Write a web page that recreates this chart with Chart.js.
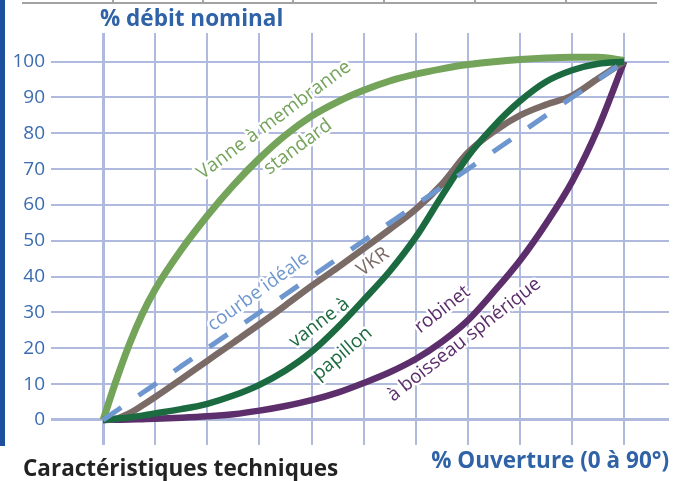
<!DOCTYPE html>
<html>
<head>
<meta charset="utf-8">
<script src="https://cdn.jsdelivr.net/npm/chart.js"></script>
<style>
  html, body { margin: 0; padding: 0; background: #fff; }
  #wrap { position: relative; width: 677px; height: 481px; }
</style>
</head>
<body>
<div id="wrap"><canvas id="chart" width="677" height="481"></canvas></div>
<script>
// % ouverture (axe x)
var ouverture = [0, 2.5, 5, 7.5, 10, 15, 20, 25, 30, 35, 40, 45, 50, 55, 60, 65, 70, 75, 80, 85, 90, 95, 100];

// % débit nominal pour chaque type de vanne
var membrane = [0, 11, 21, 29.5, 36.5, 47.5, 57, 65.5, 73, 79.5, 84.8, 88.8, 92, 94.6, 96.5, 98, 99.2, 100, 100.6, 101, 101.2, 101.2, 100.3];
var ideale   = [0, 2.5, 5, 7.5, 10, 15, 20, 25, 30, 35, 40, 45, 50, 55, 60, 65, 70, 75, 80, 85, 90, 95, 100];
var vkr      = [0, 0.3, 1.8, 4, 6.4, 11.4, 16.5, 21.6, 26.7, 32, 37.4, 42.5, 47.8, 53.2, 58.8, 65.8, 74.6, 80.5, 85, 88, 90.5, 95.3, 100];
var papillon = [0, 0.35, 0.7, 1.2, 1.8, 3, 4.5, 6.8, 9.8, 13.8, 19, 25.8, 33.5, 41.5, 51, 62.5, 73.5, 82, 89, 94.4, 97.6, 99.4, 100];
var robinet  = [0, 0.05, 0.1, 0.2, 0.3, 0.6, 1, 1.6, 2.6, 3.9, 5.5, 7.6, 10.3, 13.3, 17, 21.8, 27.8, 35.8, 44.5, 54.8, 66.5, 81.5, 100];

// graduations
var yTicks = [0, 10, 20, 30, 40, 50, 60, 70, 80, 90, 100];
var xTicks = [0, 10, 20, 30, 40, 50, 60, 70, 80, 90, 100];

// étiquettes des courbes (position en coordonnées du graphique)
var etiquettes = [
  { text: 'Vanne à membranne', x: 32.8, y: 83.7, angle: -36.5, color: '#74a35a' },
  { text: 'standard',          x: 37.4, y: 76.2, angle: -36.5, color: '#74a35a' },
  { text: 'courbe idéale',     x: 29.8, y: 35.8, angle: -36,   color: '#6f97cf' },
  { text: 'VKR',               x: 51.8, y: 44.1, angle: -36,   color: '#7b6b67' },
  { text: 'vanne à',           x: 41.5, y: 27.1, angle: -37,   color: '#1c6a40' },
  { text: 'papillon',          x: 45.9, y: 18.5, angle: -40,   color: '#1c6a40' },
  { text: 'robinet',           x: 65.1, y: 30.8, angle: -38,   color: '#5c2e6c' },
  { text: 'à boisseau sphérique', x: 69.3, y: 22.4, angle: -38, color: '#5c2e6c' }
];

function pts(ys) {
  return ouverture.map(function (x, i) { return { x: x, y: ys[i] }; });
}

var decor = {
  id: 'decor',
  beforeDraw: function (chart) {
    var ctx = chart.ctx;
    ctx.save();
    ctx.fillStyle = '#fff';
    ctx.fillRect(0, 0, chart.width, chart.height);
    // bande bleue à gauche
    ctx.fillStyle = '#1c4f9c';
    ctx.fillRect(0, 0, 5, 446);
    // bas du tableau au-dessus
    ctx.strokeStyle = '#a3a3a3';
    ctx.lineWidth = 2;
    ctx.beginPath();
    ctx.moveTo(22, 3); ctx.lineTo(657, 3);
    [113, 203, 293, 384, 475, 566].forEach(function (x) {
      ctx.moveTo(x, 0); ctx.lineTo(x, 3);
    });
    ctx.stroke();
    ctx.restore();
  },
  beforeDatasetsDraw: function (chart) {
    var ctx = chart.ctx, sx = chart.scales.x, sy = chart.scales.y;
    ctx.save();
    ctx.font = '19px "Open Sans"';
    ctx.textAlign = 'center';
    ctx.textBaseline = 'middle';
    ctx.lineJoin = 'round';
    etiquettes.forEach(function (e) {
      ctx.save();
      ctx.translate(sx.getPixelForValue(e.x), sy.getPixelForValue(e.y));
      ctx.rotate(e.angle * Math.PI / 180);
      ctx.strokeStyle = '#fff';
      ctx.lineWidth = 5;
      ctx.strokeText(e.text, 0, 0);
      ctx.fillStyle = e.color;
      ctx.fillText(e.text, 0, 0);
      ctx.restore();
    });
    ctx.restore();
  },
  afterDraw: function (chart) {
    var ctx = chart.ctx;
    ctx.save();
    ctx.textBaseline = 'middle';
    ctx.font = 'bold 22.5px "Open Sans"';
    ctx.fillStyle = '#2f62a7';
    ctx.textAlign = 'left';
    ctx.fillText('% débit nominal', 100, 20);
    ctx.textAlign = 'right';
    ctx.fillText('% Ouverture (0 à 90°)', 669, 462);
    ctx.fillStyle = '#222';
    ctx.textAlign = 'left';
    ctx.fillText('Caractéristiques techniques', 23, 470);
    ctx.restore();
  }
};

var gridColor = '#b0bade';

new Chart(document.getElementById('chart'), {
  type: 'scatter',
  data: {
    datasets: [
      { label: 'idéale', data: pts(ideale), borderColor: '#6f97cf', borderWidth: 5, borderDash: [22, 21], order: 0 },
      { label: 'papillon', data: pts(papillon), borderColor: '#1c6a40', borderWidth: 6.5, order: 1 },
      { label: 'VKR', data: pts(vkr), borderColor: '#7b6b67', borderWidth: 6.5, order: 2 },
      { label: 'membrane', data: pts(membrane), borderColor: '#74a35a', borderWidth: 7, order: 3 },
      { label: 'robinet', data: pts(robinet), borderColor: '#5c2e6c', borderWidth: 6.5, order: 4 }
    ].map(function (d) {
      d.showLine = true;
      d.pointRadius = 0;
      d.pointHoverRadius = 0;
      d.cubicInterpolationMode = 'monotone';
      d.fill = false;
      return d;
    })
  },
  options: {
    responsive: false,
    animation: false,
    layout: { padding: { left: 10, right: 8, top: 33, bottom: 36 } },
    plugins: { legend: { display: false }, tooltip: { enabled: false } },
    scales: {
      x: {
        type: 'linear', min: -10, max: 108.6,
        afterBuildTicks: function (s) { s.ticks = xTicks.map(function (v) { return { value: v }; }); },
        afterFit: function (s) { s.height = 0; },
        ticks: { display: false },
        border: { display: false },
        grid: {
          drawTicks: false, color: gridColor,
          lineWidth: function (c) { return c.tick && c.tick.value === 0 ? 3 : 2; }
        }
      },
      y: {
        type: 'linear', min: -7, max: 108,
        afterBuildTicks: function (s) { s.ticks = yTicks.map(function (v) { return { value: v }; }); },
        afterFit: function (s) { s.width = 41; },
        ticks: { color: '#3b6cb0', font: { family: 'Open Sans', size: 19 }, padding: 6 },
        border: { display: false },
        grid: {
          drawTicks: false, color: gridColor,
          lineWidth: function (c) { return c.tick && c.tick.value === 0 ? 3 : 2; }
        }
      }
    }
  },
  plugins: [decor]
});
</script>
</body>
</html>
